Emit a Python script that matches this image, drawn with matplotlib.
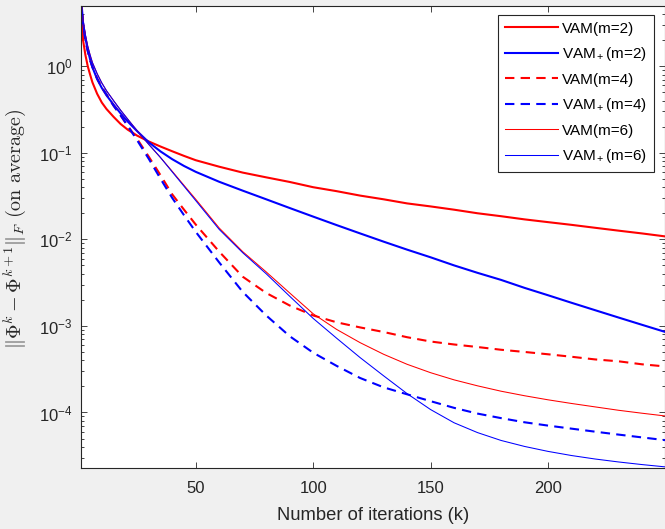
import matplotlib
matplotlib.use("Agg")
import matplotlib.pyplot as plt
from matplotlib.ticker import LogLocator, NullFormatter, FixedLocator

# ---------------- data ----------------
iters = [1, 2, 3, 4, 5, 6, 8, 10, 12, 15, 18, 21, 25, 30, 35, 40, 45, 50,
         60, 70, 80, 90, 100, 110, 120, 130, 140, 150, 160, 170, 180, 190,
         200, 210, 220, 230, 240, 250]

vam_m2 = [8.0, 2.0, 1.35, 1.0, 0.80, 0.65, 0.48, 0.38, 0.32, 0.26, 0.215, 0.185,
          0.158, 0.135, 0.118, 0.104, 0.092, 0.082, 0.069, 0.059, 0.052, 0.046,
          0.040, 0.036, 0.032, 0.029, 0.026, 0.024, 0.022, 0.020, 0.0185, 0.017,
          0.0158, 0.0147, 0.0136, 0.0126, 0.0117, 0.0108]

vamp_m2 = [7.0, 3.2, 2.1, 1.55, 1.2, 0.97, 0.71, 0.56, 0.46, 0.36, 0.285, 0.23,
           0.178, 0.132, 0.1036, 0.0842, 0.0704, 0.0602, 0.0462, 0.0365, 0.0290,
           0.0230, 0.0183, 0.0146, 0.0117, 0.0094, 0.0076, 0.0062, 0.0050, 0.0041,
           0.0034, 0.00275, 0.00226, 0.00185, 0.00152, 0.00125, 0.00103, 0.00085]

vam_m4 = [7.0, 3.0, 2.0, 1.5, 1.18, 0.98, 0.72, 0.57, 0.47, 0.35, 0.27, 0.205,
          0.145, 0.090, 0.055, 0.033, 0.022, 0.0148, 0.0072, 0.0037, 0.0024,
          0.00172, 0.00132, 0.00110, 0.00096, 0.00085, 0.00074, 0.00066, 0.00061,
          0.00057, 0.00053, 0.00050, 0.00047, 0.00044, 0.00041, 0.00039, 0.00036,
          0.00034]

vamp_m4 = [7.0, 3.0, 2.0, 1.5, 1.18, 0.98, 0.72, 0.57, 0.47, 0.35, 0.27, 0.205,
           0.140, 0.085, 0.050, 0.030, 0.019, 0.0122, 0.0054, 0.00247, 0.00132,
           0.00076, 0.00049, 0.000345, 0.00025, 0.000195, 0.000162, 0.000135,
           0.000113, 0.000097, 0.000086, 0.000077, 0.0000705, 0.000065, 0.000060,
           0.0000555, 0.0000515, 0.0000478]

vam_m6 = [7.0, 3.4, 2.3, 1.7, 1.35, 1.1, 0.82, 0.64, 0.52, 0.40, 0.31, 0.245,
          0.18, 0.125, 0.088, 0.061, 0.042, 0.029, 0.0135, 0.0072, 0.0042, 0.0024,
          0.00138, 0.00091, 0.00064, 0.00047, 0.00036, 0.000288, 0.000238, 0.000203,
          0.000176, 0.000156, 0.000140, 0.000127, 0.000116, 0.000106, 0.000098,
          0.000091]

vamp_m6 = [7.0, 3.4, 2.3, 1.7, 1.35, 1.1, 0.82, 0.64, 0.52, 0.40, 0.31, 0.245,
           0.18, 0.125, 0.088, 0.060, 0.041, 0.028, 0.0130, 0.0070, 0.0040, 0.0022,
           0.00122, 0.00072, 0.00043, 0.000265, 0.000165, 0.000108, 0.000076,
           0.0000585, 0.0000475, 0.0000405, 0.0000355, 0.0000318, 0.0000290,
           0.0000268, 0.0000250, 0.0000235]

labels = ["VAM(m=2)", "VAM$_+$(m=2)", "VAM(m=4)", "VAM$_+$(m=4)",
          "VAM(m=6)", "VAM$_+$(m=6)"]
xticks = [50, 100, 150, 200]
xlabel = "Number of iterations (k)"
ylabel = r"$\|\Phi^k-\Phi^{k+1}\|_F\ \mathrm{(on\ average)}$"

# ---------------- style ----------------
plt.rcParams["font.family"] = ["Liberation Sans", "DejaVu Sans"]
plt.rcParams["mathtext.fontset"] = "custom"
plt.rcParams["mathtext.rm"] = "Liberation Sans"
plt.rcParams["mathtext.it"] = "Liberation Sans:italic"
plt.rcParams["mathtext.bf"] = "Liberation Sans:bold"
TXT = "#262626"

W, H = 665, 529
fig = plt.figure(figsize=(W / 100, H / 100), dpi=100, facecolor="#f0f0f0")
left, right, top, bottom = 80.7, 665.4, 5.7, 467.7
ax = fig.add_axes([left / W, 1 - bottom / H, (right - left) / W, (bottom - top) / H])
ax.set_facecolor("white")

dash = (0, (4.5, 3))
series = [
    (vam_m2, "red", 1.5, "-"),
    (vamp_m2, "blue", 1.5, "-"),
    (vam_m4, "red", 1.5, dash),
    (vamp_m4, "blue", 1.5, dash),
    (vam_m6, "red", 0.75, "-"),
    (vamp_m6, "blue", 0.75, "-"),
]
for (vals, col, lw, ls), lab in zip(series, labels):
    ax.plot(iters, vals, color=col, lw=lw, linestyle=ls, label=lab)

ax.set_yscale("log")
ax.set_xlim(1, 250)
ax.set_ylim(2.3e-5, 5.0)
ax.xaxis.set_major_locator(FixedLocator(xticks))
ax.yaxis.set_major_locator(LogLocator(base=10, numticks=20))
ax.yaxis.set_minor_locator(LogLocator(base=10, subs=range(2, 10), numticks=20))
ax.yaxis.set_minor_formatter(NullFormatter())

for s in ax.spines.values():
    s.set_color(TXT)
    s.set_linewidth(0.8)
ax.tick_params(which="both", direction="in", top=True, right=True,
               colors=TXT, labelcolor=TXT, labelsize=12)
ax.tick_params(which="major", length=4.3, width=0.6)
ax.tick_params(which="minor", length=2.4, width=0.6)
ax.tick_params(axis="x", pad=9.5)
ax.tick_params(axis="y", pad=6)

ax.set_xlabel(xlabel, fontsize=13.2, color=TXT)
ax.xaxis.set_label_coords(0.5, -0.085)
ax.set_ylabel(ylabel, fontsize=14.5, color=TXT, math_fontfamily="cm")
ax.yaxis.set_label_coords(-0.09, 0.517)

leg = ax.legend(loc="upper right", bbox_to_anchor=(0.9805, 0.980), borderaxespad=0,
                fontsize=11, handlelength=3.45, handletextpad=0.3, borderpad=0.45,
                labelspacing=0.62, fancybox=False, framealpha=1, edgecolor=TXT)
leg.get_frame().set_linewidth(0.8)
for t in leg.get_texts():
    t.set_color("black")

fig.savefig("out.png", dpi=100, facecolor=fig.get_facecolor())
